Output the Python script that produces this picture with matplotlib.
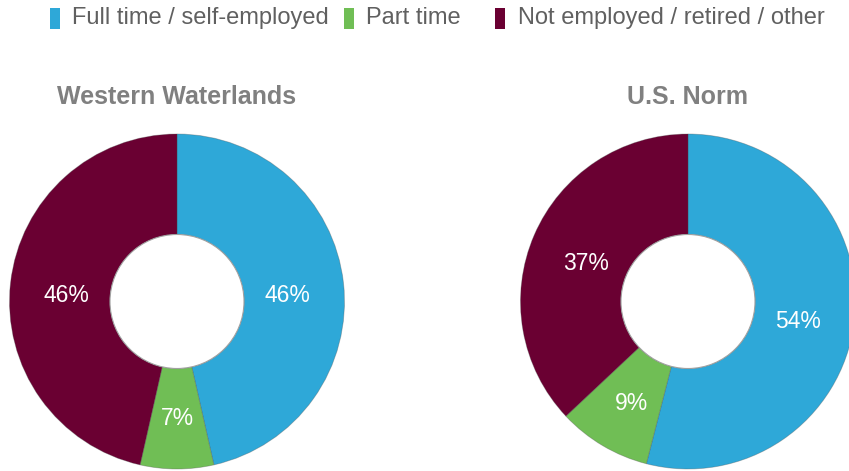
import numpy as np
import matplotlib
matplotlib.use("Agg")
import matplotlib.pyplot as plt
from matplotlib.patches import Circle, Rectangle

# Employment status shares (percent)
categories = ["Full time / self-employed", "Part time", "Not employed / retired / other"]
regions = ["Western Waterlands", "U.S. Norm"]
western_waterlands = [46, 7, 46]
us_norm = [54, 9, 37]
colors = ["#2ea8d8", "#70be55", "#6a0032"]

W, H = 849, 471
fig = plt.figure(figsize=(W / 100, H / 100), dpi=100)
ax = fig.add_axes([0, 0, 1, 1])

R_OUT, R_IN = 167.5, 67
centers = [(177, H - 301.5), (688, H - 301.5)]
body_font = ["Liberation Sans", "DejaVu Sans"]

for region, values, (cx, cy) in zip(regions, [western_waterlands, us_norm], centers):
    ax.pie(values, colors=colors, radius=R_OUT, center=(cx, cy), startangle=90,
           counterclock=False, frame=True,
           wedgeprops=dict(width=R_OUT - R_IN, edgecolor=(0.3, 0.3, 0.3, 0.35), linewidth=0.6))
    ax.add_patch(Circle((cx, cy), R_IN, facecolor="white", edgecolor="#a0a0a0",
                        linewidth=0.8, zorder=3))
    total = float(sum(values))
    cum = np.cumsum(values) - np.array(values) / 2.0
    mids = np.deg2rad(90 - 360 * cum / total)
    r_lab = 111
    for v, a in zip(values, mids):
        ax.text(cx + r_lab * np.cos(a), cy + r_lab * np.sin(a) - 6, f"{v}%",
                color="white", fontsize=16.5, ha="center", va="center",
                family=body_font, zorder=4)
    ax.text(cx, H - 97, region, color="#808080", fontweight="bold", fontsize=18,
            ha="center", va="center", family=body_font)

# Legend row across the top
legend_x = [(50, 72), (344, 366), (495, 518)]
for (mx, tx), col, lab in zip(legend_x, colors, categories):
    ax.add_patch(Rectangle((mx, H - 29), 10, 21, facecolor=col, edgecolor="none"))
    ax.text(tx, H - 18, lab, color="#606060", fontsize=17, ha="left", va="center",
            family=body_font)

ax.set_xlim(0, W)
ax.set_ylim(0, H)
ax.set_aspect("equal")
ax.axis("off")
fig.savefig("out.png", dpi=100)
